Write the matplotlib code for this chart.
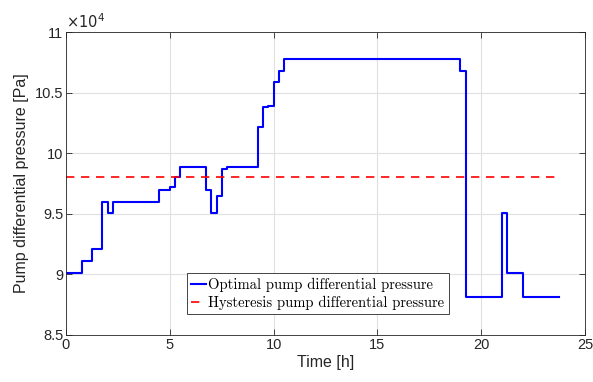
import matplotlib
matplotlib.use("Agg")
import matplotlib.pyplot as plt
from matplotlib.ticker import FuncFormatter

# Step change times [h] and optimal pump differential pressure [Pa] (post-step values)
time_h = [0, 0.75, 1.25, 1.75, 2.0, 2.25, 4.5, 5.0, 5.25, 5.5, 6.75, 7.0, 7.25, 7.5, 7.75,
          9.25, 9.5, 9.75, 10.0, 10.25, 10.5, 19.0, 19.25, 21.0, 21.25, 22.0, 23.75]
optimal_pa = [90100, 91100, 92100, 96000, 95100, 96000, 97000, 97200, 98000, 98900, 97000,
              95100, 96500, 98700, 98900, 102200, 103800, 103900, 105900, 106800, 107800,
              106800, 88100, 95100, 90100, 88100, 88100]
hyst_time = [0, 23.75]
hyst_pa = [98000, 98000]

x_ticks = [0, 5, 10, 15, 20, 25]
y_ticks = [85000, 90000, 95000, 100000, 105000, 110000]

plt.rcParams['font.family'] = ['Liberation Sans', 'DejaVu Sans']

fig = plt.figure(figsize=(5.93, 3.82), dpi=100)
ax = fig.add_axes([66/593, 1-335/382, (585-66)/593, (335-32)/382])

ax.step(time_h, optimal_pa, where='post', color=(0, 0, 1), lw=1.5,
        label='Optimal pump differential pressure')
ax.plot(hyst_time, hyst_pa, color=(1, 0, 0), lw=1.2, ls=(0, (5, 4)),
        label='Hysteresis pump differential pressure')

ax.set_xlim(0, 25)
ax.set_ylim(85000, 110000)
ax.set_xticks(x_ticks)
ax.set_yticks(y_ticks)
ax.yaxis.set_major_formatter(FuncFormatter(lambda v, p: '%g' % (v / 1e4)))
ax.tick_params(direction='in', top=True, right=True, labelsize=10.5, color='#262626',
               labelcolor='#262626', length=4, width=0.6, pad=2)
ax.grid(True, color='#e0e0e0', lw=0.8)
ax.set_axisbelow(True)
for s in ax.spines.values():
    s.set_color('#262626')
    s.set_linewidth(0.6)

ax.text(0.0, 1.003, r'$\times 10^4$', transform=ax.transAxes, fontsize=10.5,
        color='#262626', ha='left', va='bottom')

ax.set_xlabel('Time [h]', fontsize=11.5, color='#262626', labelpad=2)
ax.set_ylabel('Pump differential pressure [Pa]', fontsize=11.5, color='#262626', labelpad=4)

leg = ax.legend(loc='lower left', bbox_to_anchor=((187-66)/519, (335-314)/303),
                prop={'family': 'cmr10', 'size': 10.5}, frameon=True, fancybox=False,
                framealpha=1, edgecolor='#262626', borderpad=0.3, labelspacing=0.25,
                handlelength=1.0, handletextpad=0.15, borderaxespad=0)
leg.get_frame().set_linewidth(0.6)

fig.savefig('out.png', dpi=100)
